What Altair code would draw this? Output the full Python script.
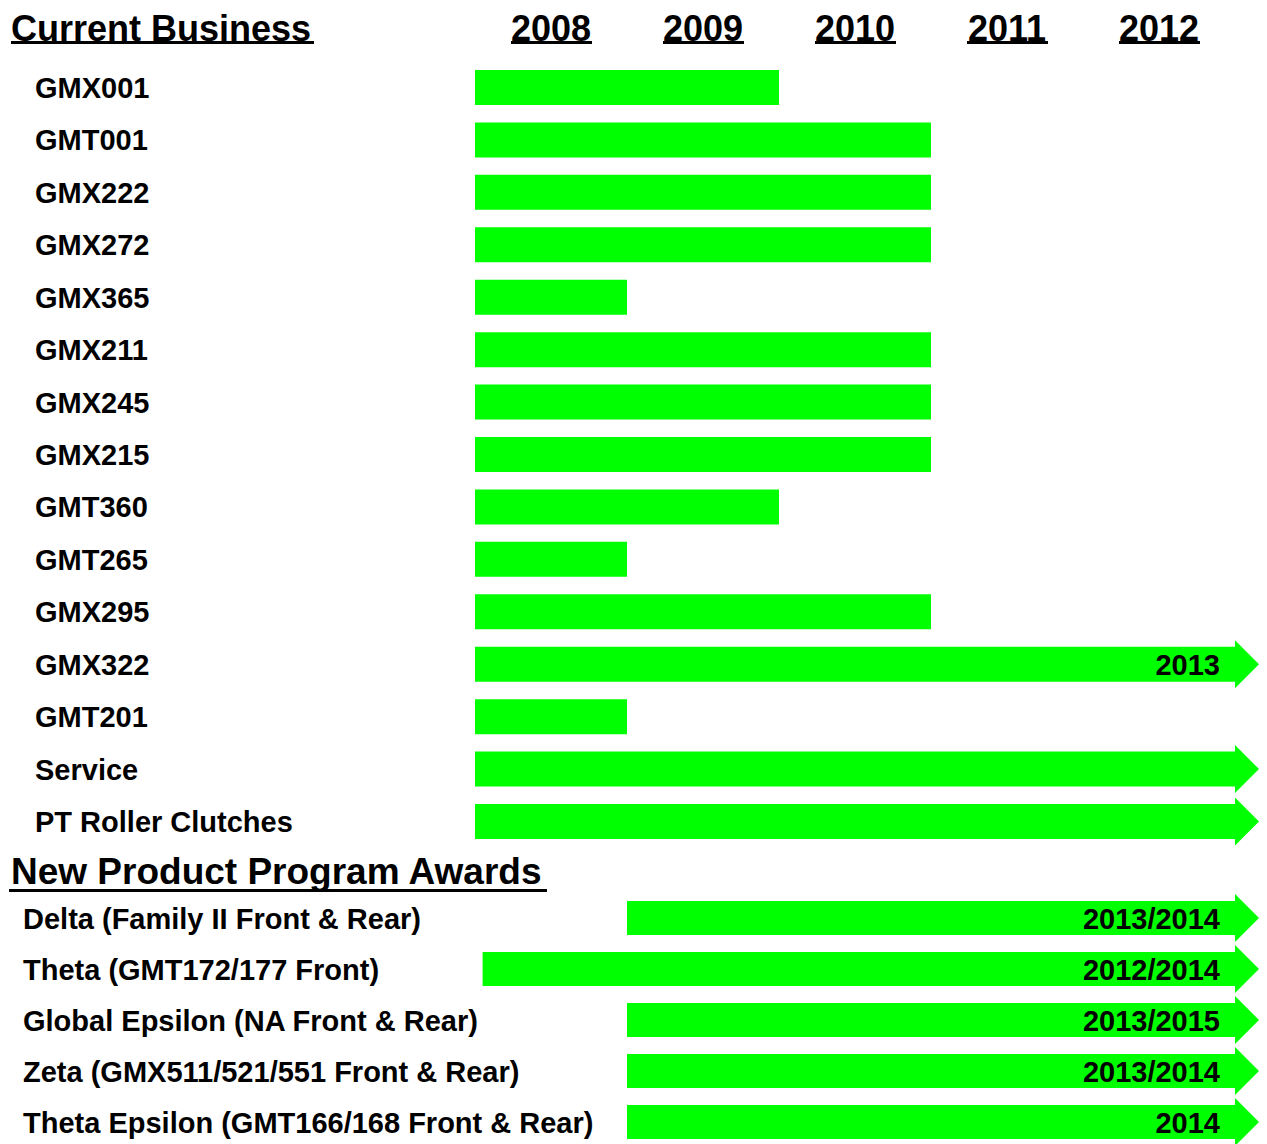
import altair as alt
import pandas as pd

FONT = "Liberation Sans"
GREEN = "#00FF00"

years = [2008, 2009, 2010, 2011, 2012]

cur_names = ["GMX001", "GMT001", "GMX222", "GMX272", "GMX365", "GMX211", "GMX245",
             "GMX215", "GMT360", "GMT265", "GMX295", "GMX322", "GMT201", "Service",
             "PT Roller Clutches"]
cur_start = [2008, 2008, 2008, 2008, 2008, 2008, 2008, 2008, 2008, 2008, 2008, 2008, 2008, 2008, 2008]
cur_end = [2010, 2011, 2011, 2011, 2009, 2011, 2011, 2011, 2010, 2009, 2011, 2013, 2009, 2013, 2013]
cur_arrow = [False, False, False, False, False, False, False, False, False, False, False, True, False, True, True]
cur_note = ["", "", "", "", "", "", "", "", "", "", "", "2013", "", "", ""]

new_names = ["Delta (Family II Front & Rear)", "Theta (GMT172/177 Front)",
             "Global Epsilon (NA Front & Rear)", "Zeta (GMX511/521/551 Front & Rear)",
             "Theta Epsilon (GMT166/168 Front & Rear)"]
new_start = [2009, 2008.05, 2009, 2009, 2009]
new_end = [2013, 2013, 2013, 2013, 2013]
new_arrow = [True, True, True, True, True]
new_note = ["2013/2014", "2012/2014", "2013/2015", "2013/2014", "2014"]

headers = ["Current Business", "New Product Program Awards"]

cur_df = pd.DataFrame({"name": cur_names, "start": cur_start, "end": cur_end,
                       "arrow": cur_arrow, "note": cur_note,
                       "idx": list(range(len(cur_names)))})
new_df = pd.DataFrame({"name": new_names, "start": new_start, "end": new_end,
                       "arrow": new_arrow, "note": new_note,
                       "idx": list(range(len(new_names)))})
year_df = pd.DataFrame({"year": years})

xs = alt.Scale(domain=[2008, 2013], range=[467, 1227], padding=0, nice=False, zero=False)
cur_ys = alt.Scale(domain=[0, 14], range=[79.5, 813.5], padding=0, nice=False, zero=False)
new_ys = alt.Scale(domain=[0, 4], range=[910, 1114], padding=0, nice=False, zero=False)

ARROW = "M0,-1L1,0L0,1Z"


def section(df, ys, label_x, bar_size, label_dy):
    base = alt.Chart(df)
    y = alt.Y("idx:Q", scale=ys, axis=None)
    bars = base.mark_bar(size=bar_size, color=GREEN).encode(
        x=alt.X("start:Q", scale=xs, axis=None), x2="end:Q", y=y)
    heads = base.transform_filter("datum.arrow").mark_point(
        shape=ARROW, filled=True, size=2304, opacity=1, color=GREEN, strokeWidth=0
    ).encode(x=alt.X("end:Q", scale=xs, axis=None), y=y)
    labels = base.mark_text(align="left", baseline="middle", dy=label_dy,
                            font=FONT, fontSize=29, fontWeight="bold", color="black"
                            ).encode(x=alt.value(label_x), y=y, text="name:N")
    notes = base.transform_filter("datum.note != ''").mark_text(
        align="right", baseline="middle", dx=-15, dy=1.5,
        font=FONT, fontSize=29, fontWeight="bold", color="black"
    ).encode(x=alt.X("end:Q", scale=xs, axis=None), y=y, text="note:N")
    return [bars, heads, labels, notes]


# headers (current section scale: row -1 for the top header, row 15 for the second)
hdr_top = alt.Chart(pd.DataFrame({"label": [headers[0]], "idx": [-1]})).mark_text(
    align="left", baseline="alphabetic", dy=6, font=FONT, fontSize=36,
    fontWeight="bold", color="black"
).encode(x=alt.value(3), y=alt.Y("idx:Q", scale=cur_ys, axis=None), text="label:N")
hdr_top_ul = alt.Chart(pd.DataFrame({"idx": [-1]})).mark_rule(
    strokeWidth=3, color="black", yOffset=7.5
).encode(x=alt.value(3), x2=alt.value(306), y=alt.Y("idx:Q", scale=cur_ys, axis=None))

yr_text = alt.Chart(year_df).transform_calculate(mid="datum.year + 0.5", idx="-1").mark_text(
    align="center", baseline="alphabetic", dy=6, font=FONT, fontSize=36,
    fontWeight="bold", color="black"
).encode(x=alt.X("mid:Q", scale=xs, axis=None),
         y=alt.Y("idx:Q", scale=cur_ys, axis=None), text="year:N")
yr_ul = alt.Chart(year_df).transform_calculate(mid="datum.year + 0.5", idx="-1").mark_rule(
    strokeWidth=3, color="black", xOffset=-40, x2Offset=41, yOffset=7.5
).encode(x=alt.X("mid:Q", scale=xs, axis=None), x2="mid:Q",
         y=alt.Y("idx:Q", scale=cur_ys, axis=None))

hdr_new = alt.Chart(pd.DataFrame({"label": [headers[1]], "idx": [15]})).mark_text(
    align="left", baseline="alphabetic", dy=10, font=FONT, fontSize=37,
    fontWeight="bold", color="black"
).encode(x=alt.value(3), y=alt.Y("idx:Q", scale=cur_ys, axis=None), text="label:N")
hdr_new_ul = alt.Chart(pd.DataFrame({"idx": [15]})).mark_rule(
    strokeWidth=3, color="black", yOffset=16.5
).encode(x=alt.value(1), x2=alt.value(539), y=alt.Y("idx:Q", scale=cur_ys, axis=None))

cur_layer = alt.layer(*section(cur_df, cur_ys, 27, 35, 1.5),
                      hdr_top, hdr_top_ul, yr_text, yr_ul, hdr_new, hdr_new_ul)
new_layer = alt.layer(*section(new_df, new_ys, 15, 34, 2))

chart = alt.layer(cur_layer, new_layer).resolve_scale(y="independent").properties(
    width=1251, height=1136,
    autosize=alt.AutoSizeParams(type="none"),
    padding=0,
).configure_view(stroke=None)

chart.save("out.html", embed_options={"renderer": "svg", "actions": False})
